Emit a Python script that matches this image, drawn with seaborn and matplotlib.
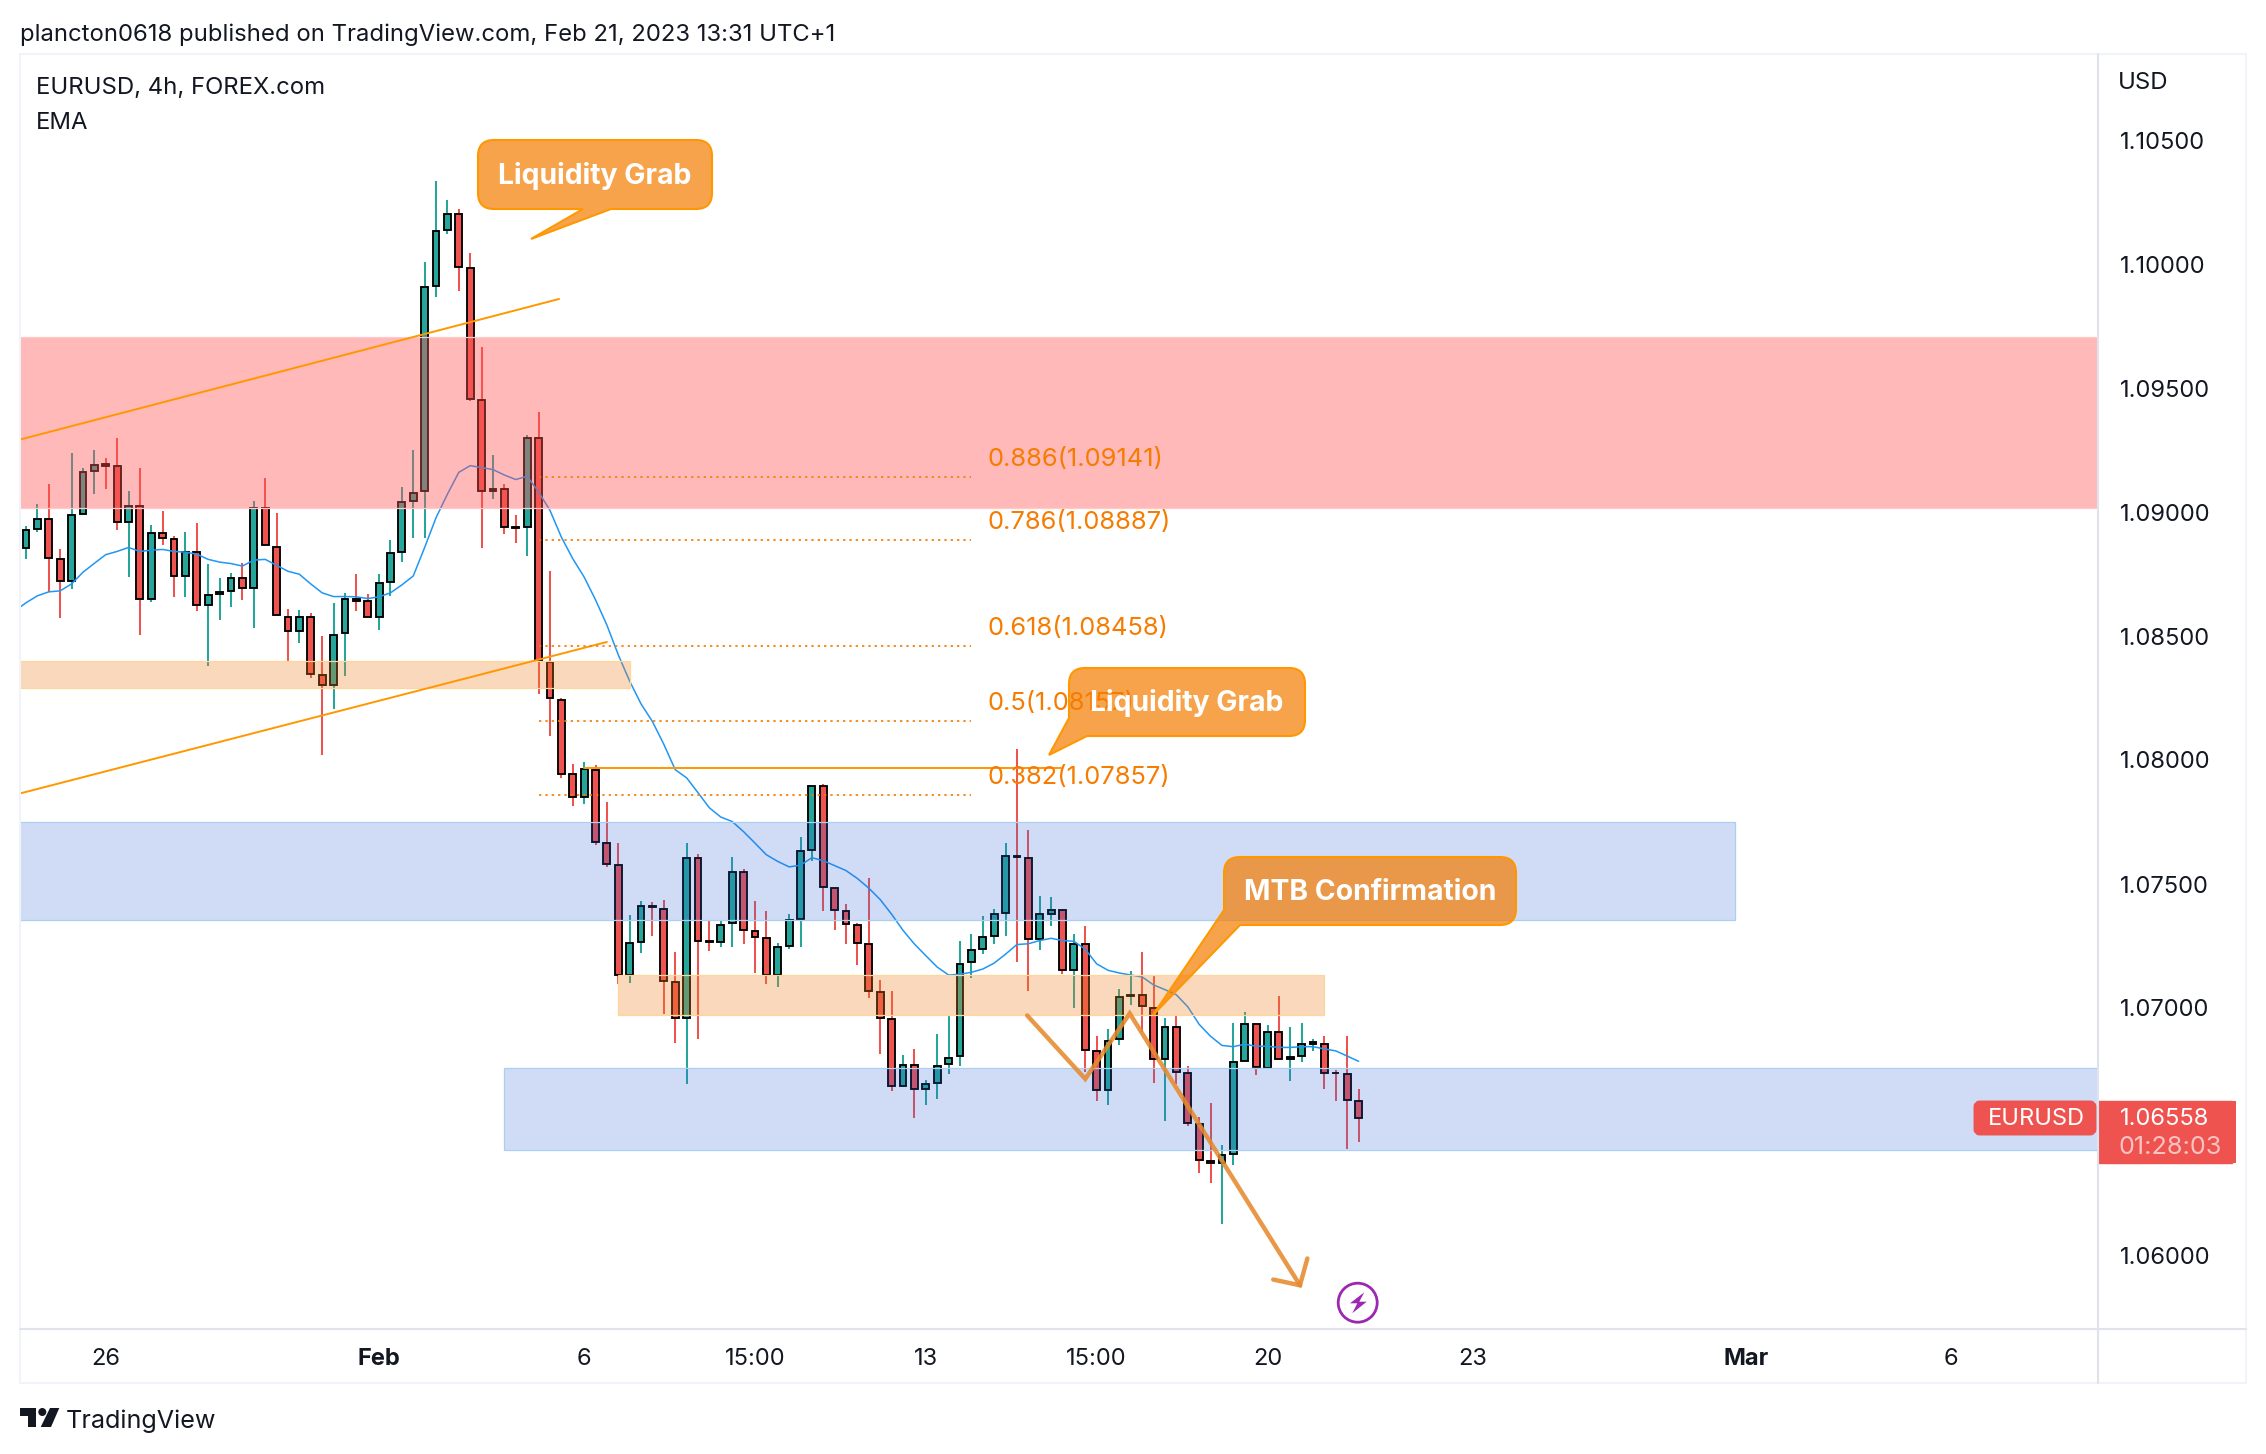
import numpy as np
import pandas as pd
import matplotlib
matplotlib.use("Agg")
import matplotlib.pyplot as plt
from matplotlib.patches import Rectangle, Polygon, FancyBboxPatch, Circle, PathPatch
from matplotlib.path import Path
import seaborn as sns

# ---- prices in 1e-5 units ----
open_pts = [108855,108932,108972,108809,108722,108992,109166,109192,109185,108961,109023,108650,108916,108891,108742,108838,108626,108670,108682,108734,
108694,109016,108859,108575,108522,108575,108342,108302,108514,108650,108642,108576,108718,108840,109045,109083,109912,110137,110201,109982,
109450,109085,109092,108940,108940,109297,108396,108242,107944,107852,107961,107665,107578,107135,107265,107411,107400,107106,106958,107606,
107270,107265,107341,107548,107311,107283,107135,107250,107359,107637,107896,107483,107391,107335,107258,107065,106956,106686,106771,106675,
106699,106773,106808,107184,107236,107289,107382,107614,107606,107280,107380,107394,107154,107259,106825,106671,106873,107050,107053,107002,
106795,106922,106739,106532,106382,106373,106412,106787,106937,106758,106902,106795,106806,106854,106854,106739,106733,106624]
close_pts = [108927,108972,108816,108722,108988,109160,109190,109187,108961,109023,108650,108916,108894,108742,108838,108626,108664,108678,108734,108694,
109016,108865,108583,108522,108575,108347,108302,108506,108648,108643,108576,108712,108835,109039,109075,109906,110132,110201,109989,109455,
109085,109091,108940,108936,109297,108401,108248,107942,107852,107965,107668,107580,107135,107263,107411,107406,107109,106958,107606,107270,
107265,107335,107548,107313,107285,107135,107246,107354,107633,107896,107489,107396,107339,107263,107069,106961,106686,106771,106675,106693,
106767,106800,107178,107233,107287,107380,107614,107609,107280,107380,107396,107152,107259,106832,106671,106867,107045,107053,107009,106795,
106922,106742,106535,106388,106373,106408,106782,106937,106761,106902,106795,106803,106854,106862,106739,106736,106628,106557]
high_pts = [108942,109032,109112,108849,109236,109179,109248,109216,109299,109085,109176,108948,109004,108902,108921,108956,108790,108734,108753,108793,
109044,109139,108997,108607,108604,108591,108498,108635,108675,108749,108669,108749,108886,109099,109248,110009,110335,110257,110220,110045,
109665,109228,109114,108988,109310,109403,108762,108248,107985,107992,107978,107831,107665,107374,107430,107426,107437,107226,107665,107622,
107350,107350,107609,107559,107430,107393,107261,107378,107689,107896,107905,107483,107419,107341,107526,107113,107069,106810,106835,106708,
106897,106967,107272,107298,107369,107399,107667,108046,107719,107453,107447,107396,107300,107329,106889,106914,107077,107149,107224,107128,
106958,106973,106766,106559,106615,106447,106938,106985,106937,106930,107048,106924,106938,106873,106886,106752,106886,106675]
low_pts = [108812,108921,108678,108573,108690,108992,109072,109093,108929,108737,108505,108639,108865,108658,108658,108599,108379,108565,108615,108647,
108533,108865,108583,108398,108470,108331,108020,108207,108339,108602,108576,108525,108663,108800,108897,108897,109866,110121,109890,109447,
108854,109051,108912,108877,108822,108266,108096,107929,107813,107822,107656,107570,107097,107100,107221,107289,106974,106860,106693,106874,
107230,107245,107245,107258,107141,107097,107085,107239,107245,107591,107393,107315,107258,107174,107041,106815,106665,106680,106558,106610,
106634,106734,106767,107119,107216,107259,107292,107185,107069,107233,107329,107138,107002,106742,106623,106607,106849,107013,106902,106699,
106546,106695,106524,106333,106296,106129,106368,106787,106731,106758,106795,106707,106782,106828,106675,106626,106432,106460]
# EMA, starting one bar before the first visible candle
ema_pts = [108600,108634,108662,108678,108682,108710,108757,108793,108828,108841,108857,108841,108846,108849,108841,108838,108830,108809,108798,108792,108782,
108806,108809,108785,108761,108749,108710,108674,108659,108659,108658,108651,108658,108674,108706,108742,108857,108977,109072,109160,109187,
109179,109171,109149,109131,109144,109081,109007,108899,108812,108738,108646,108544,108424,108318,108226,108155,108063,107961,107928,107868,
107807,107770,107752,107711,107665,107618,107591,107569,107576,107606,107594,107574,107554,107522,107483,107437,107378,107313,107258,107211,
107165,107133,107136,107144,107157,107181,107217,107256,107259,107272,107281,107272,107269,107237,107178,107152,107141,107133,107125,107093,
107074,107053,107005,106934,106886,106849,106844,106854,106846,106846,106841,106841,106844,106844,106835,106827,106806,106785]

price_ticks = [1.10500,1.10000,1.09500,1.09000,1.08500,1.08000,1.07500,1.07000,1.06000]
time_tick_bars = [7,31,49,64,79,94,109,127,151,169]
time_tick_labels = ["26","Feb","6","15:00","13","15:00","20","23","Mar","6"]

# zones: (bar start, bar end, price low, price high)
zone_red = (-2, 200, 1.09018, 1.09705)
zone_blue_upper = (-2, 150, 1.07354, 1.07748)
zone_blue_lower = (42, 200, 1.06428, 1.06758)
zone_orange_upper = (-2, 53, 1.08290, 1.08400)
zone_orange_lower = (52, 114, 1.06971, 1.07134)

channel_upper_x, channel_upper_y = [-0.53, 46.8], [1.09292, 1.09859]
channel_lower_x, channel_lower_y = [-0.53, 51.0], [1.07865, 1.08476]
level_x, level_y = [49, 90.9], [1.07968, 1.07968]
fib_x = [45, 83]
fib_levels = [1.09141, 1.08887, 1.08458, 1.08157, 1.07857]
fib_labels = ["0.886(1.09141)","0.786(1.08887)","0.618(1.08458)","0.5(1.08157)","0.382(1.07857)"]
zig_x = [87.9, 93.0, 96.9, 111.85]
zig_y = [1.06970, 1.06714, 1.06978, 1.05882]
head_x = [109.5, 111.85, 112.5]
head_y = [1.05905, 1.05882, 1.05990]

W, H = 2266, 1454
UP, DOWN = "#26a69a", "#ef5350"
ORANGE = "#ff9800"
TXT = "#131722"

sns.set_theme(style="white")
plt.rcParams["font.family"] = ["Inter", "DejaVu Sans"]

fig = plt.figure(figsize=(W/100, H/100), dpi=100, facecolor="white")
L, R, T, B = 20, 2098, 54, 1329
ax = fig.add_axes([L/W, 1-B/H, (R-L)/W, (B-T)/H])
ax.set_facecolor("white")
bars = np.arange(len(open_pts))
df = pd.DataFrame({"bar": bars, "open": np.array(open_pts)/1e5, "close": np.array(close_pts)/1e5,
                   "high": np.array(high_pts)/1e5, "low": np.array(low_pts)/1e5})
df["colour"] = np.where(df.close >= df.open, UP, DOWN)
ema = pd.DataFrame({"bar": np.arange(-1, len(open_pts)), "ema": np.array(ema_pts)/1e5})

# candles
ax.vlines(df.bar, df.low, df.high, colors=df.colour, linewidth=1.45, zorder=2)
ax.bar(df.bar, (df.close-df.open).abs(), bottom=df[["open","close"]].min(axis=1), width=0.6,
       color=df.colour, edgecolor="black", linewidth=1.35, zorder=3)
# EMA
sns.lineplot(data=ema, x="bar", y="ema", ax=ax, color="#2196f3", linewidth=1.1, zorder=4, legend=False)

def zone(z, face, alpha, edge):
    x0, x1, y0, y1 = z
    ax.add_patch(Rectangle((x0, y0), x1-x0, y1-y0, facecolor=matplotlib.colors.to_rgba(face, alpha),
                           edgecolor=edge, linewidth=0.9, zorder=5))
zone(zone_red, "#ff5252", 0.40, "#ffc9c9")
zone(zone_blue_upper, "#2962d9", 0.22, "#a9cff5")
zone(zone_blue_lower, "#2962d9", 0.22, "#a9cff5")
zone(zone_orange_upper, "#f08020", 0.30, "#ffd699")
zone(zone_orange_lower, "#f08020", 0.30, "#ffd699")

ax.plot(channel_upper_x, channel_upper_y, color=ORANGE, lw=1.4, zorder=6)
ax.plot(channel_lower_x, channel_lower_y, color=ORANGE, lw=1.4, zorder=6)
ax.plot(level_x, level_y, color=ORANGE, lw=1.4, zorder=6)
for y, s in zip(fib_levels, fib_labels):
    ax.plot(fib_x, [y, y], color="#f57c00", lw=1.2, ls=(0, (1.4, 2.4)), zorder=6)
    ax.annotate(s, xy=(fib_x[1], y), xytext=(11.5, 12.8), textcoords="offset points", color="#f57c00",
                fontsize=18.3, ha="left", va="center", zorder=7)
ax.plot(zig_x, zig_y, color="#e68a2e", lw=3.2, alpha=0.88, solid_joinstyle="miter", zorder=8)
ax.plot(head_x, head_y, color="#e68a2e", lw=3.2, alpha=0.88, solid_joinstyle="miter", zorder=8)

ax.set_xlim((L-26)/11.39, (R-26)/11.39)
ax.set_ylim(1.06-(B-1256)/24800, 1.06+(1256-T)/24800)
ax.set_xlabel(""); ax.set_ylabel("")
for s in ax.spines.values():
    s.set_visible(False)
ax.set_xticks(time_tick_bars)
ax.set_xticklabels(time_tick_labels, fontsize=17, color=TXT)
for t, s in zip(ax.get_xticklabels(), time_tick_labels):
    if s in ("Feb", "Mar"):
        t.set_fontweight("bold")
ax.tick_params(axis="x", length=0, pad=13.5)
ax.yaxis.tick_right()
ax.set_yticks(price_ticks)
ax.set_yticklabels([f"{p:.5f}" for p in price_ticks], fontsize=17, color=TXT)
ax.tick_params(axis="y", length=0, pad=15.5)
for t in ax.get_yticklabels():
    t.set_clip_on(False)

# overlay in picture pixels for chrome and callouts
ov = fig.add_axes([0, 0, 1, 1], facecolor="none")
ov.set_xlim(0, W); ov.set_ylim(H, 0); ov.axis("off")
FR, SEP = "#f0f3fa", "#e0e3eb"
ov.plot([20, 20, 2246, 2246, 20], [54, 1383, 1383, 54, 54], color=FR, lw=1.5)
ov.plot([2098, 2098], [54, 1383], color=SEP, lw=1.5)
ov.plot([20, 2246], [1329, 1329], color=SEP, lw=1.5)

def callout(x0, y0, x1, y1, tail, text, tx):
    r = 16
    v = [(x0+r, y0), (x1-r, y0), (x1, y0), (x1, y0+r), (x1, y1-r), (x1, y1), (x1-r, y1)]
    c = [Path.MOVETO, Path.LINETO, Path.CURVE3, Path.CURVE3, Path.LINETO, Path.CURVE3, Path.CURVE3]
    for p in tail:
        v.append(p); c.append(Path.LINETO)
    if tail[-1][0] == x0:
        v += [(x0, y0+r), (x0, y0), (x0+r, y0), (x0+r, y0)]
        c += [Path.LINETO, Path.CURVE3, Path.CURVE3, Path.CLOSEPOLY]
    else:
        v += [(x0+r, y1), (x0, y1), (x0, y1-r), (x0, y0+r), (x0, y0), (x0+r, y0), (x0+r, y0)]
        c += [Path.LINETO, Path.CURVE3, Path.CURVE3, Path.LINETO, Path.CURVE3, Path.CURVE3, Path.CLOSEPOLY]
    ov.add_patch(PathPatch(Path(v, c), facecolor=matplotlib.colors.to_rgba("#f57c00", 0.70),
                           edgecolor=ORANGE, linewidth=1.5))
    ov.text(tx, (y0+y1)/2+1, text, color="white", fontsize=20.4, fontweight="bold", ha="center", va="center")

callout(478, 140, 712, 209, [(611, 209), (531, 239), (583, 209)], "Liquidity Grab", 595)
callout(1069, 668, 1305, 736, [(1087, 736), (1049, 755), (1069, 718)], "Liquidity Grab", 1187)
callout(1224, 857, 1516, 925, [(1240, 925), (1153, 1015), (1224, 910)], "MTB Confirmation", 1370)

# header / footer
ov.text(20, 35, "plancton0618 published on TradingView.com, Feb 21, 2023 13:31 UTC+1", fontsize=17.2, color=TXT, va="center")
ov.text(36, 88, "EURUSD, 4h, FOREX.com", fontsize=17.2, color=TXT, va="center")
ov.text(36, 123, "EMA", fontsize=17.2, color=TXT, va="center")
ov.text(2118, 83, "USD", fontsize=17.2, color=TXT, va="center")
ov.add_patch(Polygon([(20,1408),(36,1408),(36,1427),(28,1427),(28,1416),(20,1416)], color=TXT, lw=0))
ov.add_patch(Circle((42.3,1412), 4, color=TXT, lw=0))
ov.add_patch(Polygon([(50,1408),(59.3,1408),(51,1427),(40.7,1427)], color=TXT, lw=0))
ov.text(66, 1421, "TradingView", fontsize=18.1, color=TXT, va="center")

# last-price badges
BADGE = "#ef5350"
ov.add_patch(FancyBboxPatch((1977,1104), 116, 28, boxstyle="round,pad=0,rounding_size=3", mutation_aspect=1,
                            facecolor=BADGE, edgecolor=BADGE, lw=5))
ov.add_patch(Rectangle((2098,1101), 134, 62, facecolor=BADGE, edgecolor=BADGE, lw=1))
ov.add_patch(Rectangle((2228,1101), 8, 62, facecolor=BADGE, edgecolor=BADGE, lw=0))
ov.text(2036, 1119, "EURUSD", color="white", fontsize=17, ha="center", va="center")
ov.text(2120, 1119, "1.06558", color="white", fontsize=17, ha="left", va="center")
ov.text(2118, 1147, "01:28:03", color="#fbc4c3", fontsize=18.2, ha="left", va="center")

# alert icon
ov.add_patch(Circle((1357.7,1302.7), 19.5, facecolor="none", edgecolor="#9c27b0", lw=2))
ov.add_patch(Polygon([(1364.3,1292.3),(1350,1303.3),(1357.3,1303.3),(1352.3,1313.3),(1366.7,1301.7),(1359.3,1301.7)],
                     color="#9c27b0", lw=0))

fig.savefig("out.png", dpi=100, facecolor="white")
